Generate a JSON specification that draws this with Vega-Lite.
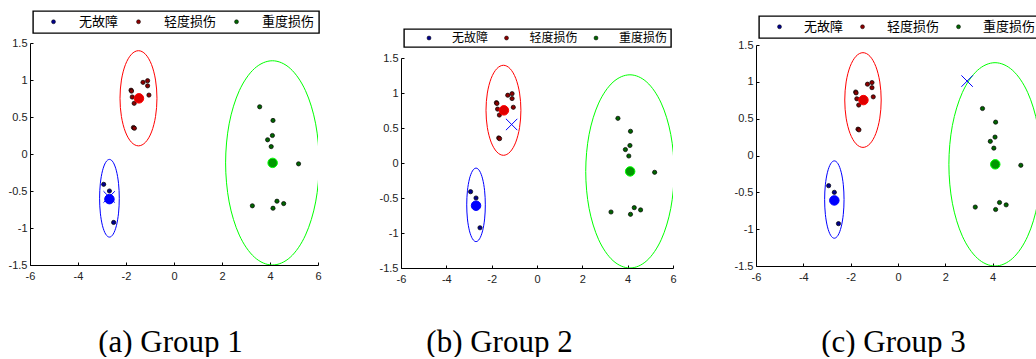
{
  "$schema": "https://vega.github.io/schema/vega-lite/v6.json",
  "background": "white",
  "padding": {"left": 8, "top": 10, "right": 0, "bottom": 0},
  "spacing": 57,
  "config": {
    "view": {"stroke": null},
    "legend": {"strokeWidth": 1.4},
    "axis": {
      "grid": false, "domainColor": "black", "domainWidth": 1, "tickColor": "black", "tickSize": -3, "tickWidth": 1,
      "labelFont": "Liberation Sans", "labelFontSize": 11, "labelColor": "#222", "labelFlush": false,
      "titleFont": "Liberation Serif", "titleFontSize": 31, "titleFontWeight": "normal", "titleColor": "black",
      "titleAlign": "center", "titleBaseline": "alphabetic"
    },
    "axisX": {"labelPadding": 8},
    "axisY": {"labelPadding": 6}
  },
  "datasets": {
    "ell": [
      {"cls": "无故障", "i": 0, "x": -2.28, "y": -0.598},
      {"cls": "无故障", "i": 1, "x": -2.311, "y": -0.397},
      {"cls": "无故障", "i": 2, "x": -2.4, "y": -0.227},
      {"cls": "无故障", "i": 3, "x": -2.533, "y": -0.113},
      {"cls": "无故障", "i": 4, "x": -2.69, "y": -0.073},
      {"cls": "无故障", "i": 5, "x": -2.847, "y": -0.113},
      {"cls": "无故障", "i": 6, "x": -2.98, "y": -0.227},
      {"cls": "无故障", "i": 7, "x": -3.069, "y": -0.397},
      {"cls": "无故障", "i": 8, "x": -3.1, "y": -0.598},
      {"cls": "无故障", "i": 9, "x": -3.069, "y": -0.799},
      {"cls": "无故障", "i": 10, "x": -2.98, "y": -0.969},
      {"cls": "无故障", "i": 11, "x": -2.847, "y": -1.083},
      {"cls": "无故障", "i": 12, "x": -2.69, "y": -1.123},
      {"cls": "无故障", "i": 13, "x": -2.533, "y": -1.083},
      {"cls": "无故障", "i": 14, "x": -2.4, "y": -0.969},
      {"cls": "无故障", "i": 15, "x": -2.311, "y": -0.799},
      {"cls": "轻度损伤", "i": 0, "x": -0.71, "y": 0.753},
      {"cls": "轻度损伤", "i": 1, "x": -0.769, "y": 0.999},
      {"cls": "轻度损伤", "i": 2, "x": -0.936, "y": 1.208},
      {"cls": "轻度损伤", "i": 3, "x": -1.185, "y": 1.347},
      {"cls": "轻度损伤", "i": 4, "x": -1.48, "y": 1.396},
      {"cls": "轻度损伤", "i": 5, "x": -1.775, "y": 1.347},
      {"cls": "轻度损伤", "i": 6, "x": -2.024, "y": 1.208},
      {"cls": "轻度损伤", "i": 7, "x": -2.191, "y": 0.999},
      {"cls": "轻度损伤", "i": 8, "x": -2.25, "y": 0.753},
      {"cls": "轻度损伤", "i": 9, "x": -2.191, "y": 0.507},
      {"cls": "轻度损伤", "i": 10, "x": -2.024, "y": 0.298},
      {"cls": "轻度损伤", "i": 11, "x": -1.775, "y": 0.159},
      {"cls": "轻度损伤", "i": 12, "x": -1.48, "y": 0.11},
      {"cls": "轻度损伤", "i": 13, "x": -1.185, "y": 0.159},
      {"cls": "轻度损伤", "i": 14, "x": -0.936, "y": 0.298},
      {"cls": "轻度损伤", "i": 15, "x": -0.769, "y": 0.507},
      {"cls": "重度损伤", "i": 0, "x": 6.05, "y": -0.12},
      {"cls": "重度损伤", "i": 1, "x": 5.902, "y": 0.408},
      {"cls": "重度损伤", "i": 2, "x": 5.479, "y": 0.856},
      {"cls": "重度损伤", "i": 3, "x": 4.846, "y": 1.155},
      {"cls": "重度损伤", "i": 4, "x": 4.1, "y": 1.26},
      {"cls": "重度损伤", "i": 5, "x": 3.354, "y": 1.155},
      {"cls": "重度损伤", "i": 6, "x": 2.721, "y": 0.856},
      {"cls": "重度损伤", "i": 7, "x": 2.298, "y": 0.408},
      {"cls": "重度损伤", "i": 8, "x": 2.15, "y": -0.12},
      {"cls": "重度损伤", "i": 9, "x": 2.298, "y": -0.648},
      {"cls": "重度损伤", "i": 10, "x": 2.721, "y": -1.096},
      {"cls": "重度损伤", "i": 11, "x": 3.354, "y": -1.395},
      {"cls": "重度损伤", "i": 12, "x": 4.1, "y": -1.5},
      {"cls": "重度损伤", "i": 13, "x": 4.846, "y": -1.395},
      {"cls": "重度损伤", "i": 14, "x": 5.479, "y": -1.096},
      {"cls": "重度损伤", "i": 15, "x": 5.902, "y": -0.648}
    ],
    "pts": [
      {"cls": "无故障", "x": -2.93, "y": -0.41},
      {"cls": "无故障", "x": -2.69, "y": -0.5},
      {"cls": "无故障", "x": -2.515, "y": -0.925},
      {"cls": "轻度损伤", "x": -1.79, "y": 0.862},
      {"cls": "轻度损伤", "x": -1.77, "y": 0.85},
      {"cls": "轻度损伤", "x": -1.29, "y": 0.968},
      {"cls": "轻度损伤", "x": -1.1, "y": 0.99},
      {"cls": "轻度损伤", "x": -1.1, "y": 0.921},
      {"cls": "轻度损伤", "x": -1.045, "y": 0.796},
      {"cls": "轻度损伤", "x": -1.74, "y": 0.77},
      {"cls": "轻度损伤", "x": -1.66, "y": 0.685},
      {"cls": "轻度损伤", "x": -1.69, "y": 0.358},
      {"cls": "轻度损伤", "x": -1.65, "y": 0.348},
      {"cls": "重度损伤", "x": 3.57, "y": 0.638},
      {"cls": "重度损伤", "x": 4.125, "y": 0.453},
      {"cls": "重度损伤", "x": 4.1, "y": 0.25},
      {"cls": "重度损伤", "x": 3.9, "y": 0.192},
      {"cls": "重度损伤", "x": 4.05, "y": 0.1},
      {"cls": "重度损伤", "x": 5.19, "y": -0.133},
      {"cls": "重度损伤", "x": 3.265, "y": -0.7},
      {"cls": "重度损伤", "x": 4.29, "y": -0.638},
      {"cls": "重度损伤", "x": 4.57, "y": -0.67},
      {"cls": "重度损伤", "x": 4.125, "y": -0.733}
    ],
    "cen": [
      {"cls": "无故障", "x": -2.69, "y": -0.61},
      {"cls": "轻度损伤", "x": -1.46, "y": 0.752},
      {"cls": "重度损伤", "x": 4.11, "y": -0.12}
    ]
  },
  "resolve": {
    "scale": {"x": "independent", "y": "independent", "fill": "independent"},
    "legend": {"fill": "independent"}
  },
  "hconcat": [
    {
      "width": 288, "height": 222,
      "encoding": {
        "x": {"field": "x", "type": "quantitative", "scale": {"domain": [-6, 6], "nice": false, "zero": false},
              "axis": {"values": [-6, -4, -2, 0, 2, 4, 6], "labelExpr": "'' + datum.value", "title": "(a) Group 1", "titleX": 140, "titleY": 86}},
        "y": {"field": "y", "type": "quantitative", "scale": {"domain": [-1.5, 1.5], "nice": false, "zero": false},
              "axis": {"values": [-1.5, -1, -0.5, 0, 0.5, 1, 1.5], "labelExpr": "'' + datum.value", "title": null}}
      },
      "layer": [
        {
          "data": {"name": "ell"},
          "mark": {"type": "line", "interpolate": "cardinal-closed", "strokeWidth": 1, "clip": true},
          "encoding": {
            "detail": {"field": "cls"},
            "order": {"field": "i", "type": "quantitative"},
            "stroke": {"field": "cls", "type": "nominal", "scale": {"domain": ["无故障", "轻度损伤", "重度损伤"], "range": ["#0000ff", "#ff0000", "#00ff00"]}, "legend": null}
          }
        },
        {
          "data": {"name": "pts"},
          "mark": {"type": "point", "filled": true, "stroke": "black", "strokeWidth": 0.7, "size": 18, "opacity": 1},
          "encoding": {
            "fill": {"field": "cls", "type": "nominal", "scale": {"domain": ["无故障", "轻度损伤", "重度损伤"], "range": ["#00008b", "#8b0000", "#006400"]},
              "legend": {"title": " ", "titleOrient": "left", "titleFontSize": 1, "titlePadding": 10,
                "orient": "none", "legendX": 3, "legendY": -32, "direction": "horizontal",
                "symbolType": "circle", "symbolSize": 16, "symbolStrokeColor": "black", "symbolStrokeWidth": 0.5,
                "labelOffset": 19, "labelFont": "Noto Sans CJK SC", "labelFontSize": 13, "labelColor": "black",
                "columnPadding": 13, "padding": 4, "strokeColor": "black"}}
          }
        },
        {
          "data": {"values": [{"x": -2.7, "y": -0.58}]},
          "mark": {"type": "point", "shape": "M-1,-1L1,1M-1,1L1,-1", "filled": false, "stroke": "#0000ff", "strokeWidth": 1, "size": 130, "opacity": 1}
        },
        {
          "data": {"name": "cen"},
          "mark": {"type": "point", "filled": true, "size": 90, "strokeWidth": 1, "opacity": 1},
          "encoding": {
            "color": {"field": "cls", "type": "nominal", "scale": {"domain": ["无故障", "轻度损伤", "重度损伤"], "range": ["#0000ff", "#e00000", "#009900"]}, "legend": null},
            "stroke": {"field": "cls", "type": "nominal", "scale": {"domain": ["无故障", "轻度损伤", "重度损伤"], "range": ["#0000ff", "#ff0000", "#00ff00"]}, "legend": null}
          }
        }
      ]
    },
    {
      "width": 272, "height": 225,
      "encoding": {
        "x": {"field": "x", "type": "quantitative", "scale": {"domain": [-6, 6], "nice": false, "zero": false},
              "axis": {"values": [-6, -4, -2, 0, 2, 4, 6], "labelExpr": "'' + datum.value", "title": "(b) Group 2", "titleX": 98, "titleY": 83}},
        "y": {"field": "y", "type": "quantitative", "scale": {"domain": [-1.5, 1.5], "range": [225, 15], "nice": false, "zero": false},
              "axis": {"values": [-1.5, -1, -0.5, 0, 0.5, 1, 1.5], "labelExpr": "'' + datum.value", "title": null}}
      },
      "layer": [
        {
          "data": {"name": "ell"},
          "mark": {"type": "line", "interpolate": "cardinal-closed", "strokeWidth": 1, "clip": true},
          "encoding": {
            "detail": {"field": "cls"},
            "order": {"field": "i", "type": "quantitative"},
            "stroke": {"field": "cls", "type": "nominal", "scale": {"domain": ["无故障", "轻度损伤", "重度损伤"], "range": ["#0000ff", "#ff0000", "#00ff00"]}, "legend": null}
          }
        },
        {
          "data": {"name": "pts"},
          "mark": {"type": "point", "filled": true, "stroke": "black", "strokeWidth": 0.7, "size": 18, "opacity": 1},
          "encoding": {
            "fill": {"field": "cls", "type": "nominal", "scale": {"domain": ["无故障", "轻度损伤", "重度损伤"], "range": ["#00008b", "#8b0000", "#006400"]},
              "legend": {"title": " ", "titleOrient": "left", "titleFontSize": 1, "titlePadding": 16,
                "orient": "none", "legendX": 3, "legendY": -14, "direction": "horizontal",
                "symbolType": "circle", "symbolSize": 16, "symbolStrokeColor": "black", "symbolStrokeWidth": 0.5,
                "labelOffset": 17, "labelFont": "Noto Sans CJK SC", "labelFontSize": 12, "labelColor": "black",
                "columnPadding": 11.5, "padding": 3, "strokeColor": "black"}}
          }
        },
        {
          "data": {"values": [{"x": -1.12, "y": 0.55}]},
          "mark": {"type": "point", "shape": "M-1,-1L1,1M-1,1L1,-1", "filled": false, "stroke": "#0000ff", "strokeWidth": 1, "size": 130, "opacity": 1}
        },
        {
          "data": {"name": "cen"},
          "mark": {"type": "point", "filled": true, "size": 90, "strokeWidth": 1, "opacity": 1},
          "encoding": {
            "color": {"field": "cls", "type": "nominal", "scale": {"domain": ["无故障", "轻度损伤", "重度损伤"], "range": ["#0000ff", "#e00000", "#009900"]}, "legend": null},
            "stroke": {"field": "cls", "type": "nominal", "scale": {"domain": ["无故障", "轻度损伤", "重度损伤"], "range": ["#0000ff", "#ff0000", "#00ff00"]}, "legend": null}
          }
        }
      ]
    },
    {
      "width": 284, "height": 223,
      "encoding": {
        "x": {"field": "x", "type": "quantitative", "scale": {"domain": [-6, 6], "nice": false, "zero": false},
              "axis": {"values": [-6, -4, -2, 0, 2, 4, 6], "labelExpr": "'' + datum.value", "title": "(c) Group 3", "titleX": 137, "titleY": 85}},
        "y": {"field": "y", "type": "quantitative", "scale": {"domain": [-1.5, 1.5], "range": [223, 2], "nice": false, "zero": false},
              "axis": {"values": [-1.5, -1, -0.5, 0, 0.5, 1, 1.5], "labelExpr": "'' + datum.value", "title": null}}
      },
      "layer": [
        {
          "data": {"name": "ell"},
          "mark": {"type": "line", "interpolate": "cardinal-closed", "strokeWidth": 1, "clip": true},
          "encoding": {
            "detail": {"field": "cls"},
            "order": {"field": "i", "type": "quantitative"},
            "stroke": {"field": "cls", "type": "nominal", "scale": {"domain": ["无故障", "轻度损伤", "重度损伤"], "range": ["#0000ff", "#ff0000", "#00ff00"]}, "legend": null}
          }
        },
        {
          "data": {"name": "pts"},
          "mark": {"type": "point", "filled": true, "stroke": "black", "strokeWidth": 0.7, "size": 18, "opacity": 1},
          "encoding": {
            "fill": {"field": "cls", "type": "nominal", "scale": {"domain": ["无故障", "轻度损伤", "重度损伤"], "range": ["#00008b", "#8b0000", "#006400"]},
              "legend": {"title": " ", "titleOrient": "left", "titleFontSize": 1, "titlePadding": 10,
                "orient": "none", "legendX": 3, "legendY": -27, "direction": "horizontal",
                "symbolType": "circle", "symbolSize": 16, "symbolStrokeColor": "black", "symbolStrokeWidth": 0.5,
                "labelOffset": 18, "labelFont": "Noto Sans CJK SC", "labelFontSize": 13, "labelColor": "black",
                "columnPadding": 12, "padding": 4, "strokeColor": "black"}}
          }
        },
        {
          "data": {"values": [{"x": 2.92, "y": 1.01}]},
          "mark": {"type": "point", "shape": "M-1,-1L1,1M-1,1L1,-1", "filled": false, "stroke": "#0000ff", "strokeWidth": 1, "size": 130, "opacity": 1}
        },
        {
          "data": {"name": "cen"},
          "mark": {"type": "point", "filled": true, "size": 90, "strokeWidth": 1, "opacity": 1},
          "encoding": {
            "color": {"field": "cls", "type": "nominal", "scale": {"domain": ["无故障", "轻度损伤", "重度损伤"], "range": ["#0000ff", "#e00000", "#009900"]}, "legend": null},
            "stroke": {"field": "cls", "type": "nominal", "scale": {"domain": ["无故障", "轻度损伤", "重度损伤"], "range": ["#0000ff", "#ff0000", "#00ff00"]}, "legend": null}
          }
        }
      ]
    }
  ]
}
